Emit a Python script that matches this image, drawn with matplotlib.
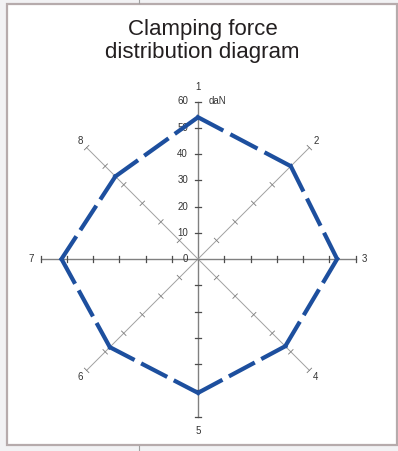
"""Clamping force radar (8 clamping points, daN)."""
import matplotlib
matplotlib.use("Agg")
import matplotlib.pyplot as plt  # noqa: E402
from matplotlib.patches import Rectangle  # noqa: E402
import numpy as np

plt.rcParams["font.family"] = ["Liberation Sans", "DejaVu Sans"]
plt.rcParams["lines.scale_dashes"] = False

TITLE = "Clamping force\ndistribution diagram"
point_labels = ["1", "2", "3", "4", "5", "6", "7", "8"]
forces = [54, 50, 53, 47, 51, 47.5, 52, 44.5]      # daN
scale_ticks = [0, 10, 20, 30, 40, 50, 60]
unit = "daN"

BLUE = "#1d4f9e"
W, H, DPI = 398, 451, 100
CX, CY = 198, 259          # centre of the web, px from top-left
PX_PER_UNIT = 2.625
LIM = 70

fig = plt.figure(figsize=(W / DPI, H / DPI), dpi=DPI)
fig.patch.set_facecolor("#f2f2f4")
half = LIM * PX_PER_UNIT
ax = fig.add_axes([(CX - half) / W, (H - CY - half) / H, 2 * half / W, 2 * half / H])
ax.set_xlim(-LIM, LIM)
ax.set_ylim(-LIM, LIM)
ax.axis("off")

# white card with the grey frame
fig.patches.append(Rectangle((7 / W, (H - 445) / H), 390 / W, 441 / H,
                             transform=fig.transFigure, facecolor="white",
                             edgecolor="#b6abac", lw=1.6, zorder=-10))
for y0, y1 in [(0, 3), (446, 451)]:
    fig.add_artist(plt.Line2D([139 / W, 139 / W], [1 - y0 / H, 1 - y1 / H],
                              transform=fig.transFigure, color="#a0a0a0", lw=0.8))

n = len(point_labels)
angles = np.pi / 2 - np.arange(n) * 2 * np.pi / n
rmax = scale_ticks[-1]

# spokes, ticks and point numbers
for i, a in enumerate(angles):
    ux, uy = np.cos(a), np.sin(a)
    main = i % 2 == 0
    ax.plot([0, rmax * ux], [0, rmax * uy], color="#808080" if main else "#a0a0a0",
            lw=1.0 if main else 0.7, zorder=1)
    px, py = -uy, ux
    for t in scale_ticks[1:]:
        tl = 1.2
        ax.plot([t * ux - tl * px, t * ux + tl * px], [t * uy - tl * py, t * uy + tl * py],
                color="#4d4d4d" if main else "#777777", lw=0.9 if main else 0.6, zorder=1)
    rl = 65.5 if i in (0, 4) else 63.5
    ax.text(rl * ux, rl * uy, point_labels[i], ha="center", va="center",
            fontsize=7, color="#333333")

for t in scale_ticks:
    ax.text(-3.8, t, str(t), ha="right", va="center", fontsize=7, color="#333333")
ax.text(4.2, rmax, unit, ha="left", va="center", fontsize=7, color="#333333")

# dashed force polygon, each side dashed so it starts and ends on a dash
xs = [r * np.cos(a) for r, a in zip(forces, angles)]
ys = [r * np.sin(a) for r, a in zip(forces, angles)]
dash_px, gap_px = 24.0, 11.0
for i in range(n):
    j = (i + 1) % n
    seg = np.hypot(xs[j] - xs[i], ys[j] - ys[i]) * PX_PER_UNIT
    k = max(1, round((seg + gap_px) / (dash_px + gap_px)))
    s = (seg + gap_px) / (k * (dash_px + gap_px))
    on, off = dash_px * s * 72 / DPI, gap_px * s * 72 / DPI
    ax.plot([xs[i], xs[j]], [ys[i], ys[j]], color=BLUE, lw=4.2 * 72 / DPI,
            dashes=(on, off), dash_capstyle="projecting", solid_capstyle="butt", zorder=3)

fig.text(202.5 / W, 1 - 41 / H, TITLE, ha="center", va="center", fontsize=16,
         color="#231f20", linespacing=1.1)

fig.savefig("out.png", dpi=DPI)
